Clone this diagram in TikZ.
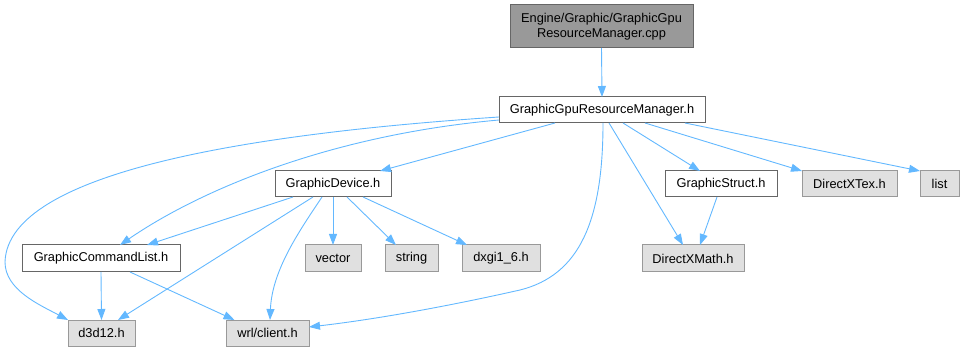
\documentclass[tikz,border=0pt]{standalone}
\usepackage{fontspec}
\setmainfont{Liberation Sans}
\usetikzlibrary{arrows.meta}
\definecolor{edgeblue}{HTML}{63B8FF}
\definecolor{extfill}{HTML}{E0E0E0}
\definecolor{rootfill}{HTML}{999999}
\begin{document}
\begin{tikzpicture}[x=1pt,y=-1pt,
  every node/.style={font=\fontsize{12.8}{15.5}\selectfont, inner sep=0pt, outer sep=0pt, anchor=center},
  hdr/.style={draw=black!60, fill=white, line width=1pt, minimum height=26pt},
  ext/.style={draw=black!40, fill=extfill, line width=1pt, minimum height=26pt},
  root/.style={draw=black!60, fill=rootfill, line width=1pt, minimum height=43pt, align=center},
  dep/.style={draw=edgeblue, line width=0.9pt, -{Triangle[length=11pt,width=8pt]}}]
\useasboundingbox (0,0) rectangle (965,352);

% files
\node[root, minimum width=183pt] (cpp) at (601.5,26.5) {Engine/Graphic/GraphicGpu\\ResourceManager.cpp};
\node[hdr, minimum width=206pt] (ggrm) at (602,110) {GraphicGpuResourceManager.h};
\node[hdr, minimum width=116pt] (gd) at (333,184) {GraphicDevice.h};
\node[hdr, minimum width=112pt] (gs) at (721,184) {GraphicStruct.h};
\node[ext, minimum width=95pt] (dxt) at (849.5,184) {DirectXTex.h};
\node[ext, minimum width=39pt] (lst) at (939.5,184) {list};
\node[hdr, minimum width=158pt, minimum height=27pt] (gcl) at (101,258.5) {GraphicCommandList.h};
\node[ext, minimum width=56pt, minimum height=27pt] (vec) at (333,258.5) {vector};
\node[ext, minimum width=53pt, minimum height=27pt] (str) at (411.5,258.5) {string};
\node[ext, minimum width=78pt, minimum height=27pt] (dxgi) at (501,258.5) {dxgi1\_6.h};
\node[ext, minimum width=102pt, minimum height=27pt] (dxm) at (693,258.5) {DirectXMath.h};
\node[ext, minimum width=67pt] (d3d) at (101.5,333) {d3d12.h};
\node[ext, minimum width=83pt] (wrl) at (267.5,333) {wrl/client.h};

% include dependencies (yshift acts on the page, so negative values move down)
\draw[dep] (cpp.south) -- (ggrm.north);
\draw[dep] ([xshift=-47pt]ggrm.south) -- ([xshift=47pt]gd.north);
\draw[dep] ([yshift=-10pt]ggrm.west) .. controls (330,135) and (200,190) .. ([xshift=19pt]gcl.north);
\draw[dep] ([yshift=-7pt]ggrm.west) .. controls (260,133) and (8,170) .. (5,262)
  .. controls (5,290) and (40,305) .. (d3d.north west);
\draw[dep] ([xshift=1pt]ggrm.south) .. controls (603,220) and (580,275) .. (520,290)
  .. controls (440,308) and (370,320) .. ([yshift=6pt]wrl.east);
\draw[dep] ([xshift=7pt]ggrm.south) -- ([xshift=-10pt]dxm.north);
\draw[dep] ([xshift=21pt]ggrm.south) -- ([xshift=-21pt]gs.north);
\draw[dep] ([xshift=43pt]ggrm.south) -- (dxt.north west);
\draw[dep] ([xshift=83pt]ggrm.south) -- (lst.north west);
\draw[dep] ([xshift=-4pt]gs.south) -- ([xshift=7pt]dxm.north);
\draw[dep] ([xshift=-40pt]gd.south) -- ([xshift=46pt]gcl.north);
\draw[dep] ([xshift=-20pt]gd.south) -- ([xshift=16.5pt]d3d.north);
\draw[dep] ([xshift=-11pt]gd.south) .. controls (300,230) and (272,270) .. ([xshift=2.5pt]wrl.north);
\draw[dep] (gd.south) -- (vec.north);
\draw[dep] ([xshift=14pt]gd.south) -- ([xshift=-15.5pt]str.north);
\draw[dep] ([xshift=30pt]gd.south) -- ([xshift=-34pt]dxgi.north);
\draw[dep] (gcl.south) -- (d3d.north);
\draw[dep] ([xshift=29pt]gcl.south) -- ([xshift=-33pt]wrl.north);
\end{tikzpicture}
\end{document}
